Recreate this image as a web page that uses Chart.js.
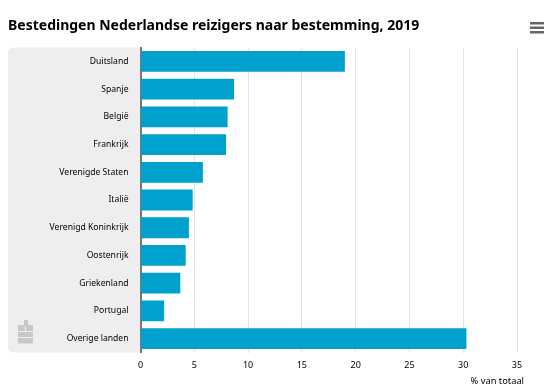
<!DOCTYPE html>
<html>
<head>
<meta charset="utf-8">
<title>Bestedingen Nederlandse reizigers</title>
<script src="https://cdn.jsdelivr.net/npm/chart.js@4"></script>
<style>
    html, body { margin: 0; padding: 0; background: #fff; }
    #wrap { position: relative; width: 549px; height: 387px; }
</style>
</head>
<body>
<div id="wrap"><canvas id="chart" width="549" height="387"></canvas></div>
<script>
const categories = ['Duitsland', 'Spanje', 'België', 'Frankrijk', 'Verenigde Staten', 'Italië',
    'Verenigd Koninkrijk', 'Oostenrijk', 'Griekenland', 'Portugal', 'Overige landen'];
const shares = [19.0, 8.7, 8.1, 7.95, 5.8, 4.85, 4.5, 4.2, 3.7, 2.2, 30.3];
const titleText = 'Bestedingen Nederlandse reizigers naar bestemming, 2019';
const axisTitle = '% van totaal';
const fontName = '"Noto Sans", sans-serif';

// grey panel behind the labels, the logo and the menu icon
const decorations = {
    id: 'decorations',
    beforeDraw(chart) {
        const { ctx, chartArea } = chart;
        ctx.save();
        ctx.fillStyle = '#eeeeee';
        ctx.beginPath();
        ctx.roundRect(8, chartArea.top, chartArea.left - 8, chartArea.bottom - chartArea.top, [6, 0, 0, 6]);
        ctx.fill();

        // logo
        ctx.fillStyle = '#c8c8c8';
        ctx.fillRect(18, 325, 15, 18.5);
        ctx.fillRect(24, 320, 4, 5);
        ctx.strokeStyle = '#eeeeee';
        ctx.lineWidth = 1;
        ctx.beginPath();
        ctx.moveTo(18, 331.5); ctx.lineTo(33, 331.5);
        ctx.moveTo(18, 337.5); ctx.lineTo(33, 337.5);
        ctx.moveTo(25.5, 326); ctx.lineTo(25.5, 331);
        ctx.stroke();

        // menu icon
        ctx.fillStyle = '#666666';
        ctx.fillRect(530, 22, 14, 2.5);
        ctx.fillRect(530, 26.5, 14, 2.5);
        ctx.fillRect(530, 31, 14, 2.5);
        ctx.restore();
    },
    afterDraw(chart) {
        const { ctx } = chart;
        ctx.save();
        ctx.fillStyle = '#000';
        ctx.font = '9.3px ' + fontName;
        ctx.textAlign = 'right';
        ctx.textBaseline = 'middle';
        ctx.fillText(axisTitle, 524, 381);
        ctx.font = 'bold 14px ' + fontName;
        ctx.textAlign = 'left';
        ctx.fillText(titleText, 8, 26);
        ctx.restore();
    }
};

new Chart(document.getElementById('chart'), {
    type: 'bar',
    data: {
        labels: categories,
        datasets: [{
            data: shares,
            backgroundColor: '#00a1cd',
            barPercentage: 0.75,
            categoryPercentage: 1
        }]
    },
    options: {
        indexAxis: 'y',
        responsive: false,
        animation: false,
        layout: { padding: { top: 47.5, left: 0, right: 32, bottom: 0 } },
        plugins: { legend: { display: false }, tooltip: { enabled: false } },
        scales: {
            x: {
                min: 0,
                max: 35,
                ticks: { stepSize: 5, color: '#000', font: { family: fontName, size: 9 }, padding: 8, maxRotation: 0 },
                grid: { color: '#e4e4e4', drawTicks: false },
                border: { display: false },
                afterFit(scale) { scale.height = 34.5; }
            },
            y: {
                ticks: { color: '#000', font: { family: fontName, size: 8.6 }, padding: 12, autoSkip: false },
                grid: { display: false, drawTicks: false },
                border: { color: '#777777', width: 2 },
                afterFit(scale) { scale.width = 140.5; }
            }
        }
    },
    plugins: [decorations]
});
</script>
</body>
</html>
